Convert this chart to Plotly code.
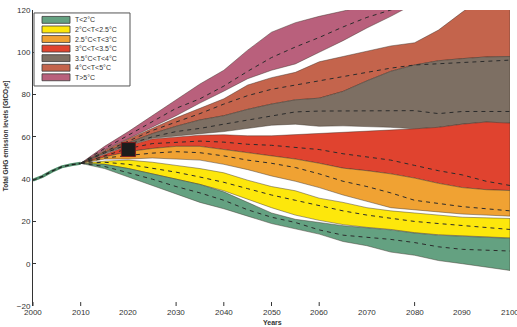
import plotly.graph_objects as go

# ---------------- data ----------------
hist_years = [2000, 2002, 2004, 2006, 2008, 2010]
hist_values = [39.5, 41.3, 43.8, 45.8, 46.8, 47.5]

years = [2010, 2015, 2020, 2025, 2030, 2035, 2040, 2045, 2050, 2055,
         2060, 2065, 2070, 2075, 2080, 2085, 2090, 2095, 2100]

categories = ["T<2°C", "2°C<T<2.5°C", "2.5°C<T<3°C", "3°C<T<3.5°C",
              "3.5°C<T<4°C", "4°C<T<5°C", "T>5°C"]

x_tick_labels = [2000, 2010, 2020, 2030, 2040, 2050, 2060, 2070, 2080, 2090, 2100]
x_tick_marks = [2000, 2010, 2030, 2040, 2050, 2060, 2080]
y_tick_labels = [-20, 0, 20, 40, 60, 80, 100, 120]

# T<2°C
green_upper = [47.5, 47, 45, 42.5, 40, 37.5, 34, 29, 24, 21, 19.5, 18, 17, 16, 14.5, 13.5, 13, 12.5, 12]
green_median = [47.5, 46, 43, 40, 36.5, 33.5, 30, 25.5, 22, 19.5, 16, 13.5, 12.5, 11.5, 10, 8, 6.8, 6.3, 6]
green_lower = [47.5, 45, 41, 37, 33, 29, 26, 22.5, 19, 16.5, 14, 10.5, 8.5, 5.5, 4, 1.5, 0, -1.5, -3.2]
# 2°C<T<2.5°C
yellow_upper = [47.5, 48.5, 49, 48, 46.5, 45, 43, 39.5, 36.5, 34.5, 31, 29, 26.5, 25, 24, 23, 22, 21.7, 21.4]
yellow_median = [47.5, 48, 47, 45.3, 43.3, 41, 38.5, 35.5, 32.5, 30, 27.5, 25, 23, 21.5, 20, 19, 18, 17, 16.2]
yellow_lower = [47.5, 47, 45, 42.5, 40, 37.5, 34.5, 30.5, 26.5, 23, 20.5, 18.5, 17.2, 16.2, 14.7, 13.7, 13.2, 12.7, 12.2]
# 2.5°C<T<3°C
orange_upper = [47.5, 50.5, 53, 54.5, 55.5, 55.5, 54, 52.5, 51, 49.5, 47.5, 45.2, 44, 42.5, 40.5, 38, 36, 35, 34.6]
orange_median = [47.5, 50, 51.2, 52.3, 53, 52.5, 51, 49, 47.5, 45.5, 42.5, 39, 36.5, 33.5, 30, 28.5, 27, 26, 25]
orange_lower = [47.5, 49.5, 49.5, 50, 49.5, 49, 47, 44.5, 41.5, 39, 36, 32.5, 29.5, 26.5, 25.5, 24.5, 23.5, 23, 22.5]
# 3°C<T<3.5°C
red_upper = [47.5, 51.5, 55.8, 59, 60, 60.8, 61, 60.5, 60.5, 61, 61.5, 62, 62.5, 63, 63.8, 64.5, 66, 67, 66.5]
red_median = [47.5, 51, 54.5, 56.8, 57.5, 58, 57.5, 56.5, 56, 55, 54, 52, 50.5, 49, 46.5, 44, 42, 39, 37]
red_lower = [47.5, 50.5, 53, 54.5, 55.5, 55.5, 54, 52.5, 51, 49.5, 47.5, 45.2, 44, 42.5, 40.5, 38, 36, 35, 34.6]
# 3.5°C<T<4°C
brown_upper = [47.5, 52.7, 57.2, 61.5, 65, 68, 70, 73, 75.5, 77.5, 78.3, 81.5, 86.5, 91, 94, 96, 97, 97.8, 98]
brown_median = [47.5, 52.3, 56.5, 60, 62.5, 64, 66, 68, 70, 71.8, 72.2, 72.3, 72.3, 72.4, 72.4, 71, 72, 72, 72]
brown_lower = [47.5, 52, 56, 59.3, 60.5, 61.5, 62.5, 64, 65.5, 66, 65, 65.2, 65, 64.5, 63.8, 64.5, 66, 67, 66.5]
# 4°C<T<5°C
terra_upper = [47.5, 53.5, 59, 64, 69, 73.5, 78, 84.5, 88, 90.5, 95.5, 98, 100.5, 103, 104.5, 110.5, 119, 127, 135]
terra_median = [47.5, 53, 58, 63, 67, 71, 75.5, 79.5, 82.5, 84.5, 86.5, 88.5, 90.5, 92.5, 94, 94.5, 95, 95.8, 96.3]
terra_lower = [47.5, 52.7, 57.2, 61.5, 65, 68, 70, 73, 75.5, 77.5, 78.3, 81.5, 86.5, 91, 94, 96, 97, 97.8, 98]
# T>5°C
pink_upper = [47.5, 55.5, 62.5, 70, 77.5, 85, 91.5, 101, 109.5, 114, 117, 119.5, 122, 125, 130, 135, 140, 145, 150]
pink_median = [47.5, 54.5, 60.8, 67, 73.5, 78, 84, 91, 97.5, 102.5, 107, 112, 116.5, 120, 124, 129, 134, 139, 144]
pink_lower = [47.5, 53.8, 59.3, 64.5, 70, 76, 81.6, 87.5, 91.5, 94.5, 100, 105.5, 111.5, 117, 123, 129, 135, 141, 147]

marker_year = [2020]
marker_value = [54]

colors = ["#64a181", "#fde70c", "#f0a233", "#e0432f", "#7d6f63", "#c4644c", "#b9607c"]

bands = [
    (green_lower, green_median, green_upper),
    (yellow_lower, yellow_median, yellow_upper),
    (orange_lower, orange_median, orange_upper),
    (red_lower, red_median, red_upper),
    (brown_lower, brown_median, brown_upper),
    (terra_lower, terra_median, terra_upper),
    (pink_lower, pink_median, pink_upper),
]

fig = go.Figure()

# filled bands, drawn from the top category down
for i in reversed(range(len(bands))):
    lo, med, up = bands[i]
    fig.add_trace(go.Scatter(
        x=years + years[::-1], y=up + lo[::-1],
        fill="toself", fillcolor=colors[i], mode="lines",
        line=dict(color="rgba(60,50,40,0.75)", width=0.6),
        showlegend=False, hoverinfo="skip"))

# dashed medians
for i in range(len(bands)):
    lo, med, up = bands[i]
    fig.add_trace(go.Scatter(
        x=years, y=med, mode="lines",
        line=dict(color="#2b2b2b", width=1, dash="4px,4px"),
        showlegend=False, hoverinfo="skip"))

# historical
fig.add_trace(go.Scatter(x=hist_years, y=hist_values, mode="lines",
                         line=dict(color="#4f8c6a", width=3), showlegend=False))
fig.add_trace(go.Scatter(x=hist_years, y=hist_values, mode="lines",
                         line=dict(color="#1e1e1e", width=1.2, dash="4px,3px"), showlegend=False))

# black square
fig.add_trace(go.Scatter(x=marker_year, y=marker_value, mode="markers",
                         marker=dict(symbol="square", size=14, color="#1c1c1c",
                                     line=dict(color="#7a1e1e", width=1)),
                         showlegend=False))

W, H = 517, 327
L, R, T, B = 33, 7, 6, 21
PW, PH = W - L - R, H - T - B


def px(x):
    return (x - L) / PW


def py(y):
    return (H - B - y) / PH


shapes = []
annotations = []

# x tick marks (only those visible in the reference)
for yr in x_tick_marks:
    shapes.append(dict(type="line", xref="x", yref="paper", x0=yr, x1=yr,
                       y0=0, y1=4 / PH, line=dict(color="#333333", width=1)))
# x tick labels
for yr in x_tick_labels:
    annotations.append(dict(xref="x", yref="paper", x=yr, y=py(313),
                            xanchor="center", yanchor="middle", text=str(yr), showarrow=False,
                            font=dict(size=8, color="#333333", family="Liberation Sans")))

# legend box
shapes.append(dict(type="rect", xref="paper", yref="paper",
                   x0=px(34), x1=px(130), y0=py(83), y1=py(9),
                   line=dict(color="#555555", width=1), fillcolor="white", layer="above"))
for k, name in enumerate(categories):
    cy = 16 + 9.7 * k
    shapes.append(dict(type="rect", xref="paper", yref="paper",
                       x0=px(42), x1=px(70), y0=py(cy + 3.5), y1=py(cy - 3.5),
                       line=dict(color="#3a3a3a", width=0.8), fillcolor=colors[k], layer="above"))
    annotations.append(dict(xref="paper", yref="paper", x=px(73), y=py(cy),
                            xanchor="left", yanchor="middle", text=name, showarrow=False,
                            font=dict(size=7, color="#333333", family="Liberation Sans")))

annotations.append(dict(xref="paper", yref="paper", x=px(272), y=py(323),
                        xanchor="center", yanchor="middle", text="<b>Years</b>", showarrow=False,
                        font=dict(size=7, color="#333333", family="Liberation Sans")))
annotations.append(dict(xref="paper", yref="paper", x=px(6), y=py(134),
                        xanchor="center", yanchor="middle", textangle=-90,
                        text="<b>Total GHG emission levels [GtCO<sub>2</sub>e]</b>", showarrow=False,
                        font=dict(size=6.5, color="#333333", family="Liberation Sans")))

fig.update_layout(
    width=W, height=H,
    margin=dict(l=L, r=R, t=T, b=B, pad=0),
    paper_bgcolor="white", plot_bgcolor="white",
    font=dict(family="Liberation Sans", size=8, color="#333333"),
    shapes=shapes, annotations=annotations,
    xaxis=dict(range=[2000, 2100], showticklabels=False, ticks="",
               showgrid=False, zeroline=False, showline=False),
    yaxis=dict(range=[-20, 120], tickvals=y_tick_labels,
               showgrid=False, zeroline=False, showline=True, linecolor="#333333", linewidth=1,
               ticks="inside", ticklen=3, tickcolor="#333333", tickwidth=1,
               tickfont=dict(size=8, color="#333333")),
)

fig.write_html("out.html")
